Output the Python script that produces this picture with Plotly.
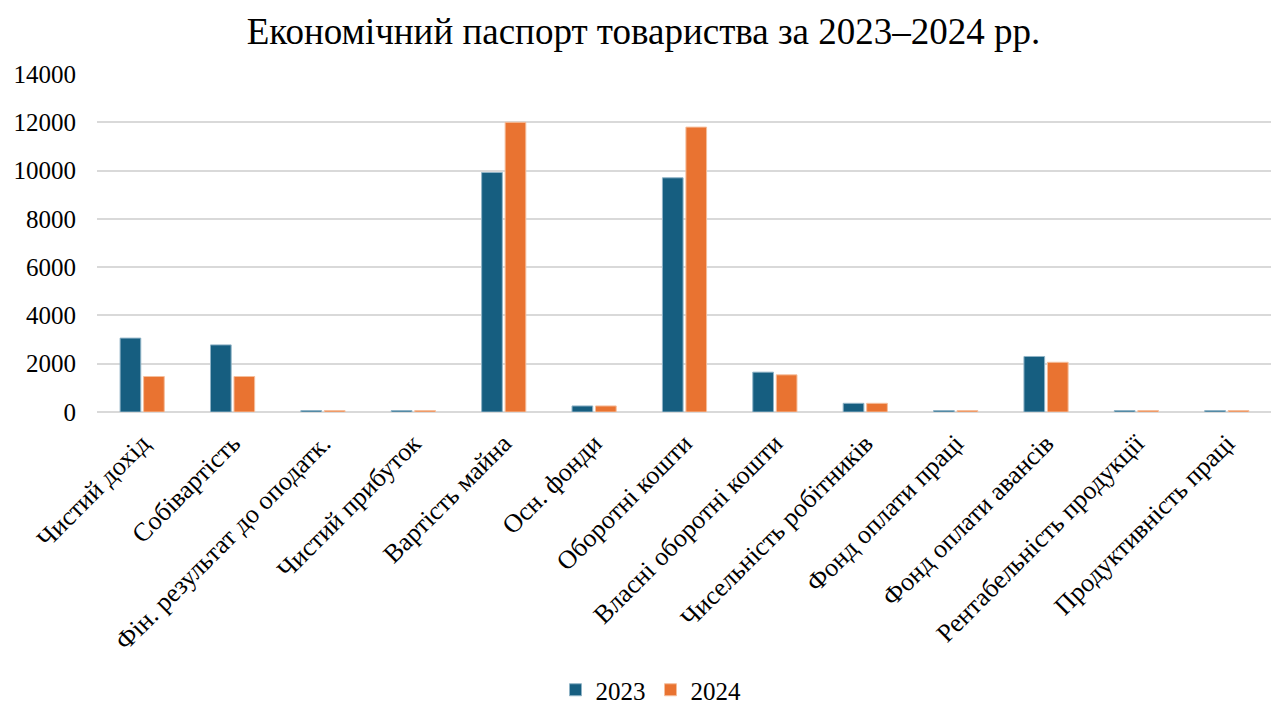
import plotly.graph_objects as go

categories = ["Чистий дохід", "Собівартість", "Фін. результат до оподатк.", "Чистий прибуток",
              "Вартість майна", "Осн. фонди", "Оборотні кошти", "Власні оборотні кошти",
              "Чисельність робітників", "Фонд оплати праці", "Фонд оплати авансів",
              "Рентабельність продукції", "Продуктивність праці"]
values_2023 = [3060, 2780, 60, 60, 9920, 250, 9700, 1650, 360, 60, 2300, 60, 60]
values_2024 = [1470, 1470, 60, 60, 12000, 250, 11800, 1540, 360, 60, 2060, 60, 60]
series_names = ["2023", "2024"]

FONT = "Liberation Serif, Times New Roman, serif"

# the page body has an 8px default margin, so the figure is sized to fit the window
W, H = 1271, 696

fig = go.Figure()
fig.add_trace(go.Bar(name=series_names[0], x=categories, y=values_2023,
                     marker=dict(color="#165E80", line=dict(color="#8FB3C6", width=1))))
fig.add_trace(go.Bar(name=series_names[1], x=categories, y=values_2024,
                     marker=dict(color="#E97331", line=dict(color="#F5BE9C", width=1))))

fig.update_layout(
    width=W, height=H,
    paper_bgcolor="white", plot_bgcolor="white",
    font=dict(family=FONT, size=24, color="#000000"),
    title=dict(text="Економічний паспорт товариства за 2023–2024 рр.",
               x=0.5, xanchor="center", y=1 - 23 / H, yref="container", yanchor="middle",
               font=dict(family=FONT, size=37, color="#000000")),
    margin=dict(l=89, r=7, t=66, b=292, autoexpand=False),
    barmode="group", bargap=0.48, bargroupgap=0.12,
    showlegend=True,
    legend=dict(orientation="h", x=(643 - 89) / 1175, xanchor="center",
                y=-(682 - 404) / 338, yanchor="middle",
                font=dict(family=FONT, size=25), itemwidth=30),
    xaxis=dict(tickangle=-45, showgrid=False, showline=False, ticks="", automargin=False,
               tickfont=dict(family=FONT, size=26), ticklabelstandoff=10),
    yaxis=dict(range=[0, 14000], dtick=2000, tickformat="d", showgrid=True,
               gridcolor="#D9D9D9", gridwidth=1.5, automargin=False,
               zeroline=True, zerolinecolor="#D9D9D9", zerolinewidth=1.5,
               tickfont=dict(family=FONT, size=25), ticks="", ticklabelstandoff=20),
)

fig.write_html("out.html")
